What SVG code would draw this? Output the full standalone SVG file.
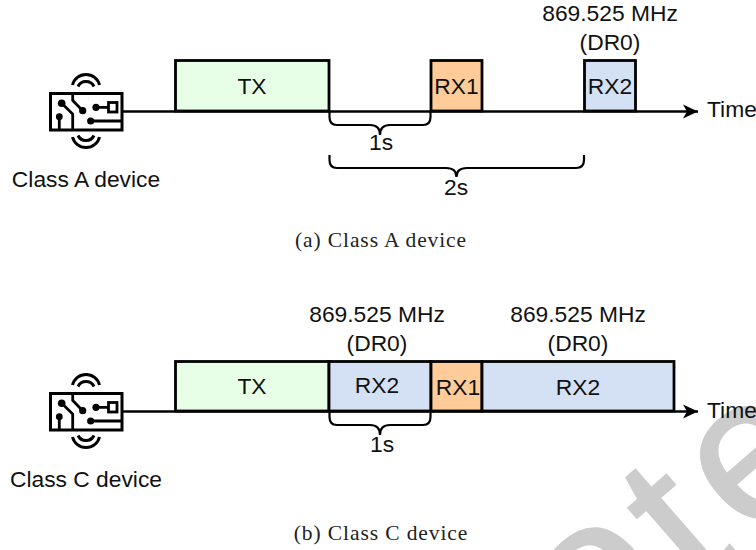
<svg xmlns="http://www.w3.org/2000/svg" width="756" height="550" viewBox="0 0 756 550">
<style>
text{font-family:"Liberation Sans",Arial,sans-serif;font-size:22.8px;fill:#111}
.m{text-anchor:middle}
text.cap{font-family:"Liberation Serif","Times New Roman",serif;font-size:21.5px;letter-spacing:.9px;fill:#222}
text.wm{font-family:"Liberation Sans",Arial,sans-serif;font-size:205px;fill:#ccc;stroke:#ccc;stroke-width:2}
.b{stroke:#000;stroke-width:2.8}
.tx{fill:#e6ffe6}.r1{fill:#ffcc99}.r2{fill:#d4e1f5}
.l{fill:none;stroke:#000;stroke-width:2.5}
.br{fill:none;stroke:#000;stroke-width:2.2}
.i{fill:none;stroke:#000;stroke-width:2.8}
.w{fill:none;stroke:#000;stroke-width:3}
.d{fill:#000}
</style>
<defs>
<marker id="ah" markerUnits="userSpaceOnUse" markerWidth="16" markerHeight="16" refX="15" refY="8" orient="auto"><path d="M0 1L15 8L0 15L4 8Z" fill="#000"/></marker>
<g id="dev">
<rect x="50.500" y="93.500" width="71.500" height="36.500" fill="#fff" stroke="#000" stroke-width="3"/>
<path class="i" d="M61.700 103.300L72.700 114V130M59.300 116.700V130M72.700 93V100.500L82.700 110.700M96 107.300H108M90.700 121H122"/>
<rect class="i" x="108.500" y="102.500" width="8.500" height="9.500"/>
<circle class="d" cx="61.700" cy="103.300" r="3.800"/><circle class="d" cx="59.300" cy="116.700" r="3.400"/><circle class="d" cx="82.700" cy="110.700" r="3.600"/><circle class="d" cx="96" cy="107.300" r="3.600"/><circle class="d" cx="90.700" cy="121" r="3.600"/>
<path class="w" d="M72.500 85A13.900 13.900 0 0 1 99.500 85M78 86.500A8.900 8.900 0 0 1 94 86.500M72.500 137A13.900 13.900 0 0 0 99.500 137M78 135.500A8.900 8.900 0 0 0 94 135.500"/>
</g>
</defs>
<rect width="756" height="550" fill="#fff"/>
<text class="wm" transform="translate(592 663) rotate(-41)">o<tspan dx="12" dy="15">t</tspan><tspan dx="15" dy="-5">e</tspan></text>
<g id="connectors">
<path class="l" d="M122 111.500H698" marker-end="url(#ah)"/>
<path class="l" d="M122 411.500H698" marker-end="url(#ah)"/>
<path class="br" d="M329.500 112V117Q329.500 125 337 125H370Q380 125 380 135Q380 125 390 125H423Q430.500 125 430.500 117V112"/>
<path class="br" d="M329.500 155V160Q329.500 168 337 168H446Q456.500 168 456.500 177Q456.500 168 467 168H576Q584 168 584 160V155"/>
<path class="br" d="M329.500 412V417Q329.500 425 337 425H370Q380 425 380 435Q380 425 390 425H423Q430.500 425 430.500 417V412"/>
</g>
<g id="device-a"><use href="#dev"/><text x="86" y="187" class="m">Class A device</text></g>
<g id="device-c"><use href="#dev" y="300"/><text x="86" y="487" class="m">Class C device</text></g>
<g id="a-tx"><rect class="b tx" x="175.500" y="60.500" width="153.500" height="50.500"/><text x="252" y="94" class="m">TX</text></g>
<g id="a-rx1"><rect class="b r1" x="431" y="60.500" width="51" height="50.500"/><text x="456.500" y="94" class="m">RX1</text></g>
<g id="a-rx2"><rect class="b r2" x="584.500" y="60.500" width="51" height="50.500"/><text x="610" y="94" class="m">RX2</text></g>
<g id="c-tx"><rect class="b tx" x="175.500" y="361.500" width="153.500" height="49.500"/><text x="252" y="394" class="m">TX</text></g>
<g id="c-rx2a"><rect class="b r2" x="329" y="361.500" width="102" height="49.500"/><text x="377" y="393" class="m">RX2</text></g>
<g id="c-rx1"><rect class="b r1" x="431" y="361.500" width="51" height="49.500"/><text x="458" y="395" class="m">RX1</text></g>
<g id="c-rx2b"><rect class="b r2" x="482" y="361.500" width="192" height="49.500"/><text x="578" y="395" class="m">RX2</text></g>
<g id="labels">
<text x="610" y="21" class="m">869.525 MHz</text><text x="610" y="50" class="m">(DR0)</text>
<text x="707" y="117">Time</text>
<text x="381" y="150" class="m">1s</text><text x="456" y="195" class="m">2s</text>
<text x="377" y="322" class="m">869.525 MHz</text><text x="377" y="351" class="m">(DR0)</text>
<text x="578" y="322" class="m">869.525 MHz</text><text x="578" y="351" class="m">(DR0)</text>
<text x="707" y="418">Time</text>
<text x="382" y="452" class="m">1s</text>
<text x="381" y="247" class="m cap">(a) Class A device</text>
<text x="381" y="540" class="m cap">(b) Class C device</text>
</g>
</svg>
